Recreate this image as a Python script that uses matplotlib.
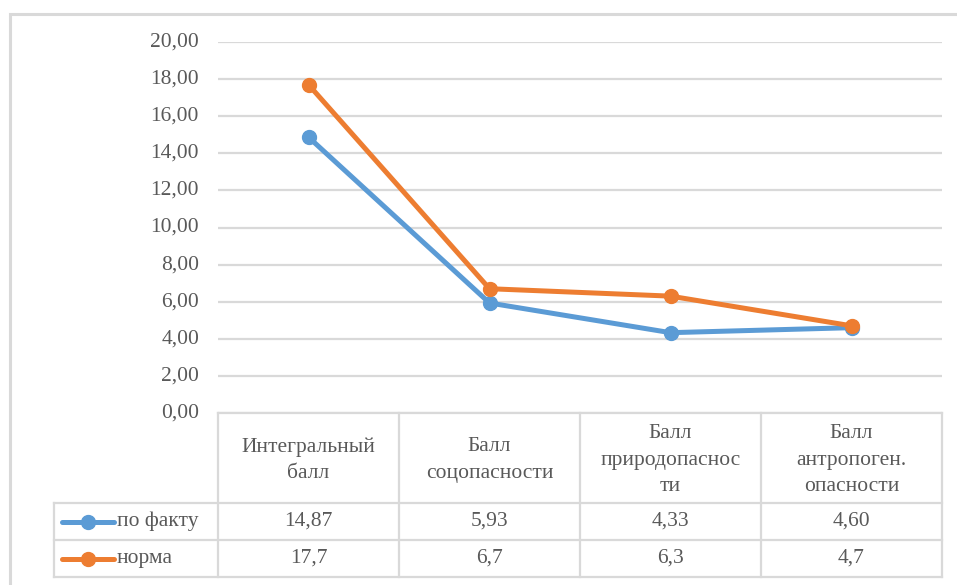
import matplotlib
matplotlib.use("Agg")
import matplotlib.pyplot as plt
from matplotlib.lines import Line2D
from matplotlib.patches import Rectangle
import matplotlib.transforms as mtransforms

FONT = "Liberation Serif"

# data
categories = ["Интегральный\nбалл", "Балл\nсоцопасности",
              "Балл\nприродопаснос\nти", "Балл\nантропоген.\nопасности"]
fact = [14.87, 5.93, 4.33, 4.60]
norm = [17.7, 6.7, 6.3, 4.7]
fact_labels = ["14,87", "5,93", "4,33", "4,60"]
norm_labels = ["17,7", "6,7", "6,3", "4,7"]
series_names = ["по факту", "норма"]
yticks = [0, 2, 4, 6, 8, 10, 12, 14, 16, 18, 20]

W, H = 957, 585
BLUE = "#5B9BD5"
ORANGE = "#ED7D31"
GRID = "#D9D9D9"
TXT = "#595959"
FS = 15.5

def fx(x):
    return x / W

def fy(y):
    return 1 - y / H

fig = plt.figure(figsize=(W / 100, H / 100), dpi=100)

# outer chart frame
fig.patches.append(Rectangle((fx(9.5), fy(700)), 1.2, fy(13.5) - fy(700),
                             transform=fig.transFigure, fill=False,
                             edgecolor=GRID, linewidth=2.2))

ax_l, ax_r, ax_t, ax_b = 218, 942, 42, 413
ax = fig.add_axes([fx(ax_l), fy(ax_b), fx(ax_r) - fx(ax_l), fy(ax_t) - fy(ax_b)])
ax.set_xlim(-0.5, len(categories) - 0.5)
ax.set_ylim(0, 20)
ax.set_yticks(yticks)
ax.set_yticklabels([])
ax.tick_params(axis="y", length=0)
ax.set_xticks([])
ax.grid(axis="y", color=GRID, linewidth=1.6)
ax.set_axisbelow(True)
for s in ax.spines.values():
    s.set_visible(False)

# y labels placed by hand so the serif face is used
ytr = mtransforms.blended_transform_factory(fig.transFigure, ax.transData)
for v in yticks:
    fig.text(fx(199), v, f"{v:.2f}".replace(".", ","), transform=ytr,
             ha="right", va="center", fontsize=FS, color=TXT, family=FONT)

xs = range(len(categories))
ax.plot(xs, fact, color=BLUE, linewidth=3.6, marker="o", markersize=10,
        solid_capstyle="round", zorder=3, clip_on=False)
ax.plot(xs, norm, color=ORANGE, linewidth=3.6, marker="o", markersize=10,
        solid_capstyle="round", zorder=4, clip_on=False)

# data table under the axis
tr = mtransforms.blended_transform_factory(ax.transData, fig.transFigure)
rows_y = [413, 503, 540, 577]
col_x = [x - 0.5 for x in range(len(categories) + 1)]
legend_left = fx(54)

def hline(x0, x1, y, trans):
    fig.lines.append(Line2D([x0, x1], [fy(y), fy(y)], transform=trans,
                            color=GRID, linewidth=1.6))

def vline(x, y0, y1, trans):
    fig.lines.append(Line2D([x, x], [fy(y0), fy(y1)], transform=trans,
                            color=GRID, linewidth=1.6))

hline(col_x[0], col_x[-1], rows_y[0], tr)
for y in rows_y[1:]:
    hline(legend_left, fx(ax_r), y, fig.transFigure)
for x in col_x:
    vline(x, rows_y[0], rows_y[-1], tr)
vline(legend_left, rows_y[1], rows_y[-1], fig.transFigure)

for i, cat in enumerate(categories):
    fig.text(i, fy((rows_y[0] + rows_y[1]) / 2 + 2), cat, transform=tr,
             ha="center", va="center", fontsize=FS, color=TXT,
             linespacing=1.52, family=FONT)
    fig.text(i, fy((rows_y[1] + rows_y[2]) / 2), fact_labels[i], transform=tr,
             ha="center", va="center", fontsize=FS, color=TXT, family=FONT)
    fig.text(i, fy((rows_y[2] + rows_y[3]) / 2), norm_labels[i], transform=tr,
             ha="center", va="center", fontsize=FS, color=TXT, family=FONT)

# legend keys inside the table
for k, (name, col) in enumerate(zip(series_names, [BLUE, ORANGE])):
    yc = fy((rows_y[k + 1] + rows_y[k + 2]) / 2)
    fig.lines.append(Line2D([fx(62), fx(114)], [yc, yc], transform=fig.transFigure,
                            color=col, linewidth=3.6, solid_capstyle="round"))
    fig.lines.append(Line2D([fx(88)], [yc], transform=fig.transFigure,
                            color=col, marker="o", markersize=10))
    fig.text(fx(117), yc, name, ha="left", va="center", fontsize=FS,
             color=TXT, family=FONT)

fig.savefig("out.png", dpi=100)
